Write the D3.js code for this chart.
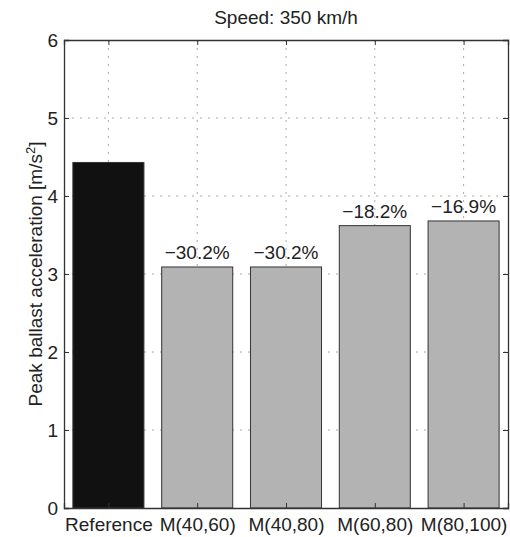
<!DOCTYPE html>
<html>
<head>
<meta charset="utf-8">
<title>Speed: 350 km/h</title>
<style>
  body { margin: 0; background: #fff; }
  svg { display: block; font-family: "Liberation Sans", Arial, sans-serif; }
  .grid line { stroke: #aaa; stroke-dasharray: 2,6; stroke-width: 1; }
  .lbl { font-size: 19px; fill: #222; }
</style>
</head>
<body>
<div id="chart"></div>
<script src="https://d3js.org/d3.v7.min.js"></script>
<script>
var categories = ["Reference", "M(40,60)", "M(40,80)", "M(60,80)", "M(80,100)"];
var values = [4.43, 3.09, 3.09, 3.62, 3.68];
var barLabels = ["", "\u221230.2%", "\u221230.2%", "\u221218.2%", "\u221216.9%"];
var barColors = ["#111111", "#b3b3b3", "#b3b3b3", "#b3b3b3", "#b3b3b3"];
var yTicks = [0, 1, 2, 3, 4, 5, 6];

var W = 510, H = 537,
    margin = {top: 40, right: 2, bottom: 29, left: 64},
    width = W - margin.left - margin.right,
    height = H - margin.top - margin.bottom;

var svg = d3.select("#chart").append("svg")
    .attr("width", W).attr("height", H);

var g = svg.append("g")
    .attr("transform", "translate(" + margin.left + "," + margin.top + ")");

// bar positions as 1..n like matlab, width 0.8
var x = d3.scaleLinear().domain([0.5, categories.length + 0.5]).range([0, width]);
var y = d3.scaleLinear().domain([0, 6]).range([height, 0]);
var barW = x(1.8) - x(1);

// dotted grid
var grid = g.append("g").attr("class", "grid");
grid.selectAll(".gy").data(yTicks.slice(1, -1)).enter().append("line")
    .attr("x1", 0).attr("x2", width)
    .attr("y1", function(d){ return y(d); }).attr("y2", function(d){ return y(d); });
grid.selectAll(".gx").data(categories).enter().append("line")
    .attr("x1", function(d,i){ return x(i+1); }).attr("x2", function(d,i){ return x(i+1); })
    .attr("y1", 0).attr("y2", height);

// bars
g.selectAll(".bar").data(values).enter().append("rect")
    .attr("class", "bar")
    .attr("x", function(d,i){ return x(i+1) - barW/2; })
    .attr("width", barW)
    .attr("y", function(d){ return y(d); })
    .attr("height", function(d){ return height - y(d); })
    .attr("fill", function(d,i){ return barColors[i]; })
    .attr("stroke", "#333").attr("stroke-width", 1);

// percentage labels
g.selectAll(".pct").data(values).enter().append("text")
    .attr("class", "lbl")
    .attr("x", function(d,i){ return x(i+1); })
    .attr("y", function(d){ return y(d) - 8; })
    .attr("text-anchor", "middle")
    .text(function(d,i){ return barLabels[i]; });

// box axes, ticks pointing in
var idx = d3.range(1, categories.length + 1);
var axL = g.append("g").call(d3.axisLeft(y).tickValues(yTicks).tickSize(-5).tickPadding(6).tickFormat(d3.format("d")));
var axR = g.append("g").attr("transform", "translate(" + width + ",0)")
    .call(d3.axisRight(y).tickValues(yTicks).tickSize(-5).tickFormat(""));
var axB = g.append("g").attr("transform", "translate(0," + height + ")")
    .call(d3.axisBottom(x).tickValues(idx).tickSize(-5).tickPadding(10)
      .tickFormat(function(d){ return categories[d-1]; }));
var axT = g.append("g")
    .call(d3.axisTop(x).tickValues(idx).tickSize(-5).tickFormat(""));

[axL, axR, axB, axT].forEach(function(a){
  a.attr("font-size", null).attr("font-family", null);
  a.select(".domain").attr("stroke", "#333").attr("stroke-width", 1.3);
  a.selectAll(".tick line").attr("stroke", "#333");
  a.selectAll(".tick text").attr("class", "lbl").attr("fill", null);
});

// title
svg.append("text")
    .attr("class", "lbl")
    .attr("x", margin.left + width/2).attr("y", 24)
    .attr("text-anchor", "middle")
    .text("Speed: 350 km/h");

// y label
var yl = svg.append("text")
    .attr("class", "lbl")
    .attr("transform", "translate(42," + (margin.top + height/2) + ") rotate(-90)")
    .attr("text-anchor", "middle");
yl.append("tspan").text("Peak ballast acceleration [m/s");
yl.append("tspan").attr("dy", -7).style("font-size", "13px").text("2");
yl.append("tspan").attr("dy", 7).text("]");
</script>
</body>
</html>
